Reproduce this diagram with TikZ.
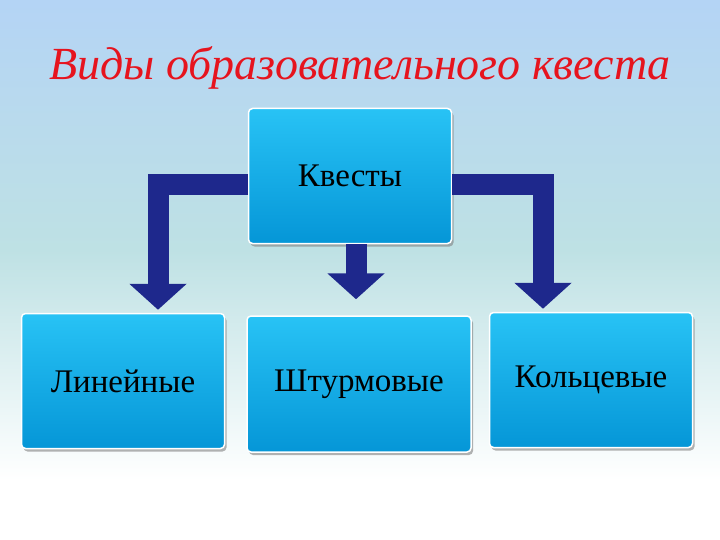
\documentclass[tikz,border=0pt]{standalone}
\usepackage{fontspec}
\setmainfont{Liberation Serif}
\usetikzlibrary{arrows.meta, positioning, shadows}
\definecolor{bgtop}{RGB}{180,212,245}
\definecolor{bgmid}{RGB}{190,225,228}
\definecolor{boxtop}{RGB}{40,195,245}
\definecolor{boxbot}{RGB}{5,150,215}
\definecolor{navy}{RGB}{30,40,140}
\definecolor{titlered}{RGB}{230,20,30}
\tikzstyle{kind} = [
    rectangle,
    rounded corners=4pt,
    minimum width=203pt,
    minimum height=135pt,
    text centered,
    draw=white,
    line width=1.5pt,
    top color=boxtop,
    bottom color=boxbot,
    drop shadow={shadow xshift=2pt, shadow yshift=-3pt, opacity=0.6},
    font=\fontsize{33}{36}\selectfont
]
\tikzstyle{bigarrow} = [navy, line width=21pt, -{Triangle[width=56pt,length=26pt]}]
\begin{document}
\begin{tikzpicture}[x=1pt, y=-1pt]

% Background
\shade[top color=bgtop, bottom color=bgmid] (0,0) rectangle (720,250);
\shade[top color=bgmid, bottom color=white] (0,250) rectangle (720,480);
\fill[white] (0,480) rectangle (720,540);
\useasboundingbox (0,0) rectangle (720,540);

% Title
\node (title) at (360,68) {\fontsize{46}{50}\selectfont\itshape\color{titlered}Виды образовательного квеста};

% Nodes
\node (kv) [kind] at (350,176) {Квесты};
\node (lin) [kind] at (123,381) {Линейные};
\node (sht) [kind, minimum width=224pt, minimum height=136pt] at (359,384) {Штурмовые};
\node (kol) [kind] at (591,380) {Кольцевые};

% Arrows
\draw [bigarrow] ([yshift=-9pt]kv.west) -| ([xshift=35pt,yshift=3pt]lin.north);
\draw [bigarrow] ([xshift=6pt]kv.south) -- ([xshift=-3pt,yshift=16pt]sht.north);
\draw [bigarrow] ([yshift=-9pt]kv.east) -| ([xshift=-48pt,yshift=3pt]kol.north);

\end{tikzpicture}
\end{document}
